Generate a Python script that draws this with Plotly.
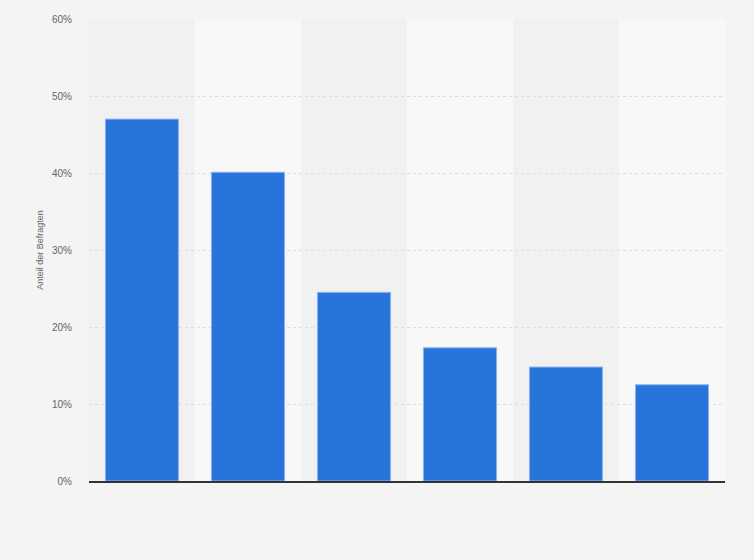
import plotly.graph_objects as go

# Data (category labels are not shown in the chart)
categories = ["Kategorie 1", "Kategorie 2", "Kategorie 3",
              "Kategorie 4", "Kategorie 5", "Kategorie 6"]
shares = [47.0, 40.1, 24.5, 17.3, 14.8, 12.5]
y_ticks = [0, 10, 20, 30, 40, 50, 60]
y_tick_labels = ["0%", "10%", "20%", "30%", "40%", "50%", "60%"]

fig = go.Figure()

fig.add_trace(go.Bar(
    x=list(range(len(categories))),
    y=shares,
    marker=dict(color="#2775db", line=dict(color="#8fb4ee", width=1)),
    hovertext=categories,
    hoverinfo="text+y",
))

# alternating column bands behind the bars
shapes = []
for i in range(len(categories)):
    shapes.append(dict(
        type="rect", xref="x", yref="paper",
        x0=i - 0.5, x1=i + 0.5, y0=0, y1=1,
        fillcolor="#f1f1f1" if i % 2 == 0 else "#f8f8f8",
        line=dict(width=0), layer="below",
    ))

fig.update_layout(
    width=754, height=560,
    paper_bgcolor="#f4f4f4",
    plot_bgcolor="rgba(0,0,0,0)",
    margin=dict(l=89, r=29, t=19, b=79),
    bargap=0.31,
    showlegend=False,
    shapes=shapes,
    font=dict(family="Arial, Liberation Sans, sans-serif", color="#666666", size=10),
)

fig.update_xaxes(
    range=[-0.5, len(categories) - 0.5],
    showticklabels=False,
    showgrid=False,
    zeroline=False,
    showline=True, linecolor="#333333", linewidth=1.5,
    fixedrange=True,
)

fig.update_yaxes(
    range=[0, 60],
    tickvals=y_ticks,
    ticktext=y_tick_labels,
    ticks="", ticklabelstandoff=16,
    showgrid=True, gridcolor="#dedede", griddash="dot", gridwidth=1,
    zeroline=False,
    title=dict(text="Anteil der Befragten", font=dict(size=9, color="#666666"), standoff=6),
    fixedrange=True,
)

# drop the browser's default body margin so the chart sits at the window edge
fig.write_html("out.html", config={"displayModeBar": False},
               post_script="document.body.style.margin='0';")
